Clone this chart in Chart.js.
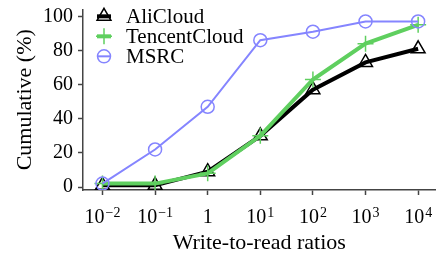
<!DOCTYPE html>
<html>
<head>
<meta charset="utf-8">
<script src="https://cdn.jsdelivr.net/npm/chart.js@4"></script>
<style>
  html, body { margin: 0; padding: 0; background: #fff; }
</style>
</head>
<body>
<canvas id="chart" width="445" height="258"></canvas>
<script>
// data
const ratioExponents = [-2, -1, 0, 1, 2, 3, 4];
const xTickBase = ['10', '10', '1', '10', '10', '10', '10'];
const xTickSup = ['\u22122', '\u22121', '', '1', '2', '3', '4'];
const yTickValues = [0, 20, 40, 60, 80, 100];
const seriesNames = ['AliCloud', 'TencentCloud', 'MSRC'];
const aliCloud = [1, 1, 9, 30, 57, 73, 81];
const tencentCloud = [2, 2, 8, 30, 63, 84, 95];
const msrc = [2, 22, 47, 86, 91, 97, 97];

const serif = "'Liberation Serif', 'DejaVu Serif', serif";
const axisColor = '#444';

function toPoints(vals) {
    return vals.map((v, i) => ({ x: ratioExponents[i], y: v }));
}

// legend inside the plot (top-left) + 10^n tick labels with real superscripts
const extras = {
    id: 'extras',
    afterDraw(chart) {
        const ctx = chart.ctx;
        const area = chart.chartArea;
        const xs = chart.scales.x;
        const ys = chart.scales.y;
        ctx.save();

        // x tick labels
        ctx.fillStyle = '#000';
        ctx.textBaseline = 'alphabetic';
        ctx.textAlign = 'left';
        ratioExponents.forEach((e, i) => {
            const px = xs.getPixelForValue(e);
            ctx.font = '20px ' + serif;
            const w1 = ctx.measureText(xTickBase[i]).width;
            ctx.font = '14px ' + serif;
            const w2 = xTickSup[i] ? ctx.measureText(xTickSup[i]).width + 1 : 0;
            const start = px - (w1 + w2) / 2;
            ctx.font = '20px ' + serif;
            ctx.fillText(xTickBase[i], start, 223);
            if (xTickSup[i]) {
                ctx.font = '14px ' + serif;
                ctx.fillText(xTickSup[i], start + w1 + 1, 217);
            }
        });

        // legend, first row level with the 100 tick
        const x0 = area.left + 21;
        const y0 = ys.getPixelForValue(100);
        chart.data.datasets.forEach((ds, i) => {
            const cy = y0 + i * 20;
            ctx.strokeStyle = ds.borderColor;
            ctx.lineWidth = ds.borderWidth;
            ctx.beginPath();
            ctx.moveTo(x0 - 7, cy);
            ctx.lineTo(x0 + 7, cy);
            ctx.stroke();
            ctx.strokeStyle = ds.pointBorderColor;
            ctx.fillStyle = ds.pointBackgroundColor;
            ctx.lineWidth = ds.pointBorderWidth;
            Chart.helpers.drawPoint(ctx, {
                pointStyle: ds.pointStyle,
                radius: ds.pointRadius,
                borderWidth: ds.pointBorderWidth,
                rotation: 0
            }, x0, cy);
            ctx.fillStyle = '#000';
            ctx.font = '21px ' + serif;
            ctx.textBaseline = 'middle';
            ctx.textAlign = 'left';
            ctx.fillText(ds.label, x0 + 22, cy + 1);
        });
        ctx.restore();
    }
};

const datasets = [
    {
        label: seriesNames[0],
        data: toPoints(aliCloud),
        borderColor: '#000',
        borderWidth: 4,
        pointStyle: 'triangle',
        pointRadius: 8,
        pointBorderWidth: 1.5,
        pointBorderColor: '#000',
        pointBackgroundColor: 'rgba(0,0,0,0)',
        order: 3
    },
    {
        label: seriesNames[1],
        data: toPoints(tencentCloud),
        borderColor: '#5fcf5f',
        borderWidth: 4,
        pointStyle: 'cross',
        pointRadius: 8,
        pointBorderWidth: 1.5,
        pointBorderColor: '#5fcf5f',
        pointBackgroundColor: 'rgba(0,0,0,0)',
        order: 2
    },
    {
        label: seriesNames[2],
        data: toPoints(msrc),
        borderColor: '#8585ff',
        borderWidth: 2,
        pointStyle: 'circle',
        pointRadius: 6.5,
        pointBorderWidth: 1.5,
        pointBorderColor: '#8585ff',
        pointBackgroundColor: 'rgba(0,0,0,0)',
        order: 1
    }
];

const options = {
    responsive: false,
    devicePixelRatio: 1,
    animation: false,
    layout: { padding: { top: 3, right: 0, left: 0, bottom: 0 } },
    plugins: {
        legend: { display: false },
        tooltip: { enabled: false }
    },
    scales: {
        x: {
            type: 'linear',
            min: -2.37,
            max: 4.33,
            afterFit: function (scale) { scale.height = 68; },
            afterBuildTicks: function (scale) {
                scale.ticks = ratioExponents.map(v => ({ value: v }));
            },
            ticks: { display: false },
            grid: {
                drawOnChartArea: false,
                drawTicks: true,
                tickLength: 5,
                tickWidth: 1.5,
                color: axisColor
            },
            border: { display: true, color: axisColor, width: 1.5 },
            title: {
                display: true,
                text: 'Write-to-read ratios',
                color: '#000',
                font: { family: serif, size: 22 },
                padding: { top: 0, bottom: 2 }
            }
        },
        y: {
            min: -1.74,
            max: 104,
            afterFit: function (scale) { scale.width = 83; },
            afterBuildTicks: function (scale) {
                scale.ticks = yTickValues.map(v => ({ value: v }));
            },
            ticks: {
                padding: 5,
                color: '#000',
                font: { family: serif, size: 20, lineHeight: 0.3 }
            },
            grid: {
                drawOnChartArea: false,
                tickLength: 5,
                tickWidth: 1.5,
                color: axisColor
            },
            border: { display: true, color: axisColor, width: 1.5 },
            title: {
                display: true,
                text: 'Cumulative (%)',
                color: '#000',
                font: { family: serif, size: 22 },
                padding: { top: 12, bottom: 0 }
            }
        }
    }
};

new Chart(document.getElementById('chart').getContext('2d'), {
    type: 'line',
    data: { datasets: datasets },
    options: options,
    plugins: [extras]
});
</script>
</body>
</html>
